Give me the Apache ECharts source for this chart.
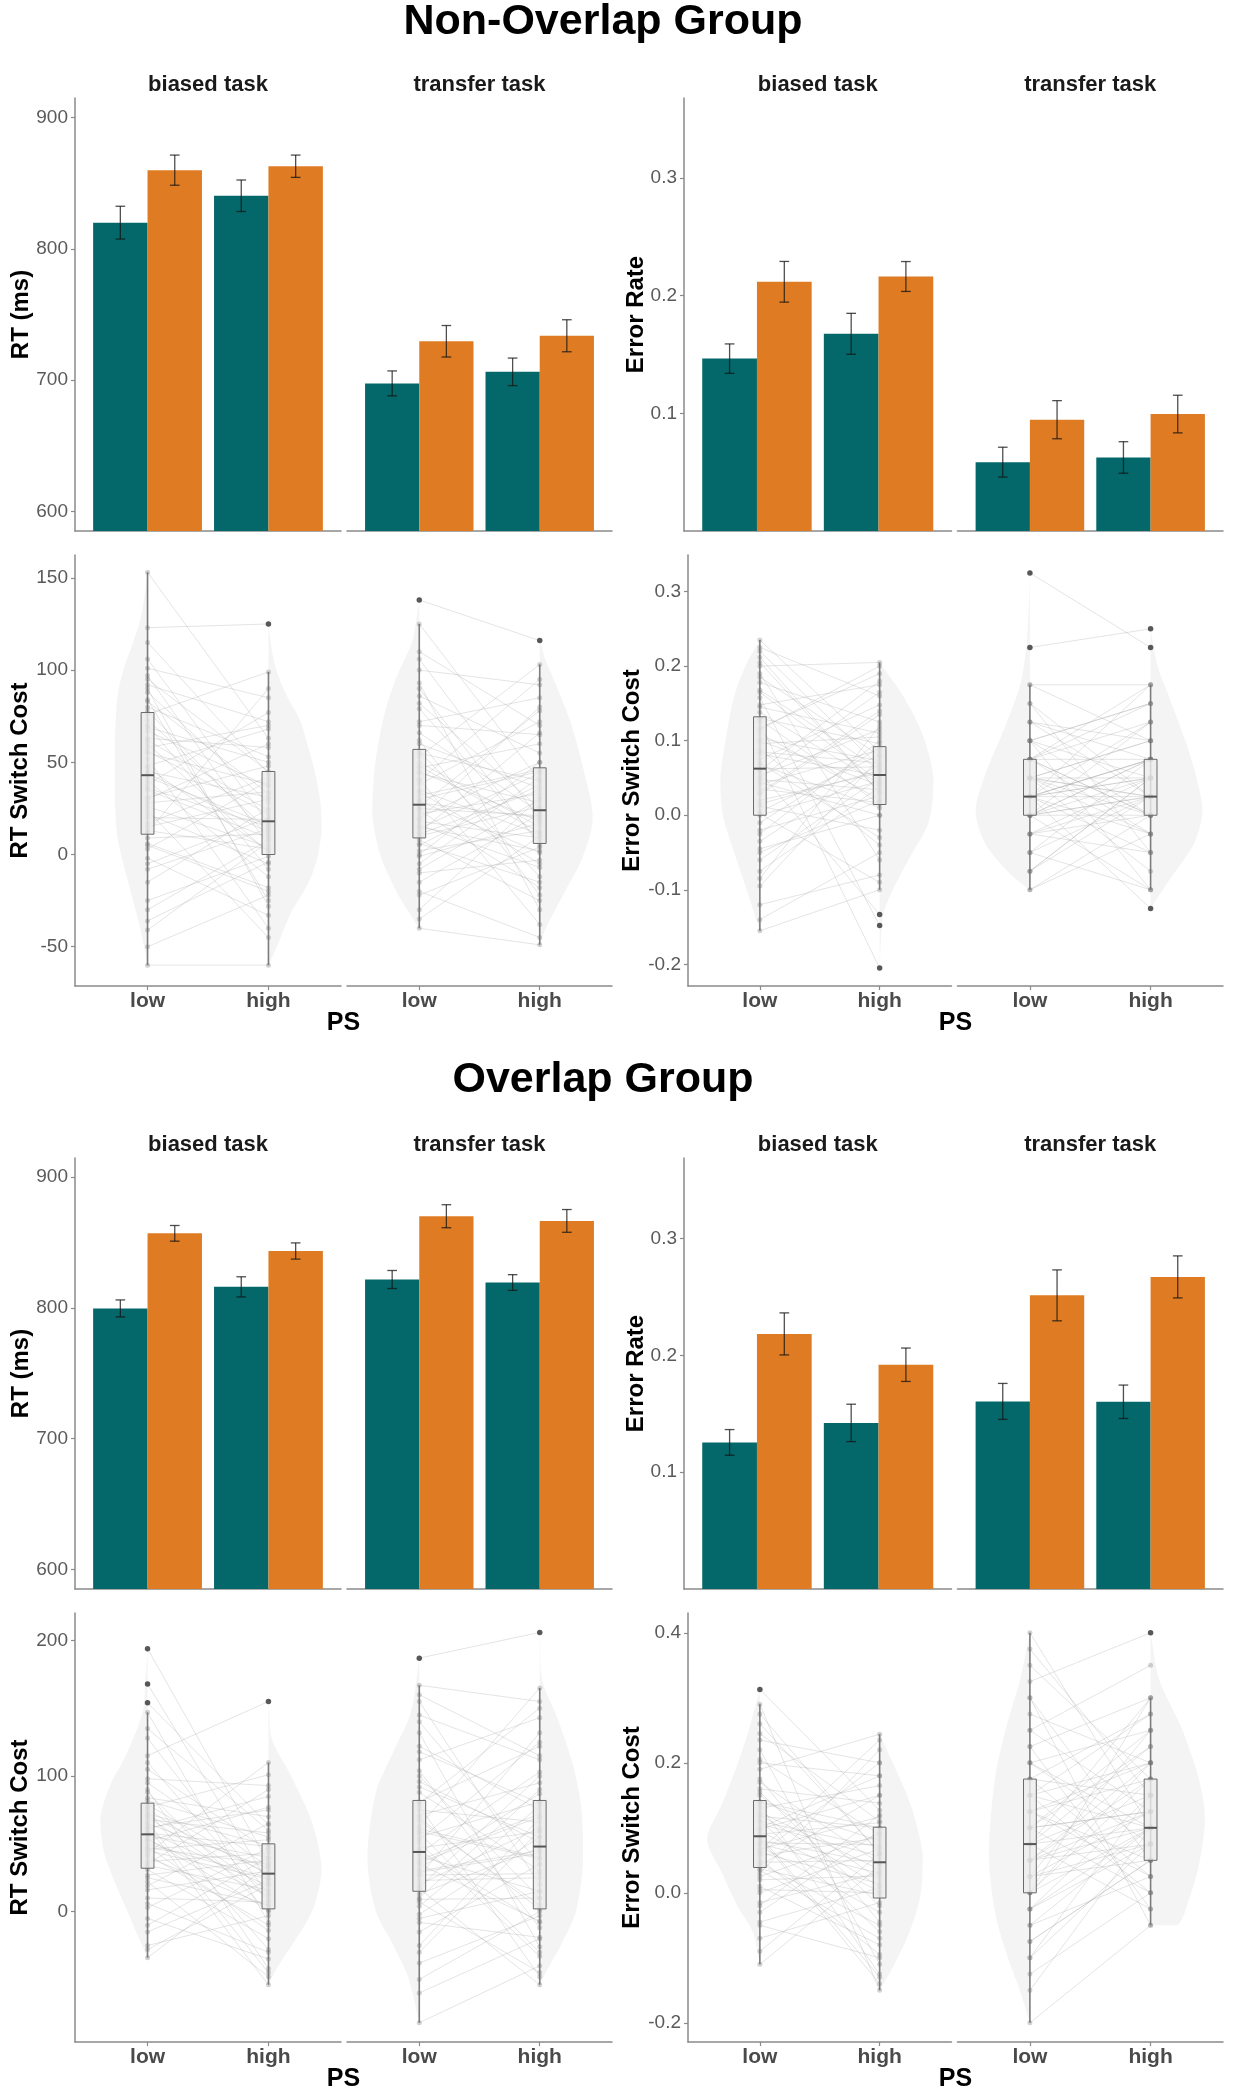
<!DOCTYPE html>
<html><head><meta charset="utf-8">
<script src="https://cdn.jsdelivr.net/npm/echarts@6/dist/echarts.min.js"></script>
<style>html,body{margin:0;padding:0;background:#fff}#c{width:1237px;height:2100px}</style>
</head><body><div id="c"></div>
<script>
// ================= DATA =================
const groupTitles = ['Non-Overlap Group', 'Overlap Group'];
const tasks = ['biased task', 'transfer task'];
const psLevels = ['low', 'high'];
const trialTypes = ['repeat', 'switch'];   // teal, orange (no legend in the figure)

// Bar means / SE. Rows: biased-low, biased-high, transfer-low, transfer-high; cols: repeat, switch
const noRtMean  = [[820, 860], [840.5, 863], [697.5, 729.6], [706.3, 733.8]];
const noRtSe    = [[12.5, 11.5], [12, 8.5], [9.5, 12], [10.5, 12.2]];
const noErrMean = [[0.1465, 0.2118], [0.1676, 0.2163], [0.0585, 0.0946], [0.0625, 0.0994]];
const noErrSe   = [[0.0125, 0.0173], [0.0174, 0.0127], [0.0127, 0.0162], [0.0134, 0.016]];
const ovRtMean  = [[799.5, 856.9], [816, 843.4], [821.6, 870], [819.3, 866.4]];
const ovRtSe    = [[6.5, 6], [7.7, 6.2], [6.9, 8.8], [6, 8.7]];
const ovErrMean = [[0.1255, 0.2184], [0.1422, 0.192], [0.1606, 0.2514], [0.1603, 0.2672]];
const ovErrSe   = [[0.011, 0.018], [0.016, 0.0143], [0.0154, 0.0218], [0.0143, 0.018]];

// Participant switch costs (estimated), paired low/high
const noRtBiasedLow   = [153, 123, 115, 106, 101, 97, 92, 88, 84, 80, 76, 73, 70, 67, 63, 60, 56, 52, 48, 45, 42, 40, 38, 35, 31, 28, 24, 20, 17, 13, 9, 6, 3, -2, -8, -15, -25, -36, -41, -60,
  -50, -30, -5, 5, 15, 22, 30, 36, 47, 55, 62, 69, 78, 83, 90, 95, 58, 26, 12, 44];
const noRtBiasedHigh  = [63, 125, 44, 17, 85, 5, 72, 28, -25, 53, 99, 13, -8, 37, 58, 1, 22, -40, 68, 31, 16, -12, 77, 9, 48, 34, -45, 19, 42, 3, 11, -18, 40, -33, 14, 25, -1, -4, 7, -60,
  -22, 8, 20, -20, 30, -5, 60, 15, 2, 38, 24, 50, 10, 33, -28, 45, 70, 4, 90, 12];
const noRtTransferLow  = [138, 125, 106, 100, 93, 86, 79, 72, 66, 60, 56, 53, 50, 47, 44, 41, 38, 35, 32, 29, 26, 25, 24, 22, 20, 18, 16, 14, 12, 10, 8, 5, 2, -1, -5, -10, -15, -22, -30, -40,
  -35, -20, -8, 0, 6, 11, 15, 19, 28, 34, 40, 48, 55, 62, 70, 82, 90, 110, 30, 45];
const noRtTransferHigh = [116, 40, 19, 92, -30, 55, 7, 85, 23, 36, -12, 103, 15, 60, 28, -38, 72, 11, 46, 1, 78, 21, -18, 33, 50, 9, -7, 44, 66, 26, -25, 38, 13, 17, 42, -3, 22, 4, 31, -49,
  10, -45, 30, 50, -15, 35, 2, 80, 20, -5, 95, 12, 40, -22, 65, 25, 5, 70, 45, 18];
const noErrBiasedLow   = [0.235, 0.225, 0.212, 0.2, 0.19, 0.178, 0.168, 0.158, 0.148, 0.138, 0.13, 0.124, 0.117, 0.11, 0.103, 0.096, 0.089, 0.082, 0.075, 0.068, 0.062, 0.058, 0.053, 0.048, 0.041, 0.035, 0.028, 0.02, 0.012, 0.005, 0, -0.01, -0.02, -0.035, -0.045, -0.06, -0.075, -0.095, -0.12, -0.155,
  -0.14, -0.085, -0.05, -0.025, 0.002, 0.015, 0.03, 0.044, 0.06, 0.07, 0.085, 0.1, 0.115, 0.128, 0.145, 0.165, 0.185, 0.205, 0.22, 0.05];
const noErrBiasedHigh  = [0.085, 0.16, 0.03, 0.205, -0.06, 0.125, 0.061, -0.148, 0.175, 0.042, 0.096, -0.205, 0.19, 0.021, 0.073, 0.105, -0.04, 0.053, 0.148, 0.01, 0.065, -0.133, 0.115, 0.034, 0.088, 0.017, 0.135, 0.057, -0.02, 0.081, 0.046, 0.091, 0.026, 0.069, 0, 0.05, 0.038, 0.077, -0.08, -0.1,
  -0.05, 0.12, 0.02, 0.1, -0.09, 0.06, 0.14, 0.0, 0.18, -0.03, 0.07, 0.04, 0.2, 0.015, 0.11, 0.045, 0.08, 0.03, 0.065, 0.165];
const noErrTransferLow  = [0.325, 0.225, 0.175, 0.15, 0.125, 0.125, 0.1, 0.1, 0.1, 0.075, 0.075, 0.075, 0.075, 0.075, 0.05, 0.05, 0.05, 0.05, 0.05, 0.025, 0.025, 0.025, 0.025, 0.025, 0.025, 0.025, 0, 0, 0, 0, 0, -0.025, -0.025, -0.025, -0.05, -0.05, -0.075, -0.075, -0.1, -0.1,
  0.05, 0.025, 0, -0.05, 0.1, 0.075, 0.025, 0.15, 0, -0.025, 0.05, 0.125, 0.025, 0.075, -0.075, 0, 0.175, 0.05, 0.1, 0.025];
const noErrTransferHigh = [0.225, 0.25, 0.175, -0.05, 0.1, 0.025, 0.15, -0.1, 0.05, 0.125, -0.025, 0.075, 0, 0.175, 0.025, -0.075, 0.1, 0.05, 0, 0.075, 0.125, -0.025, 0.025, 0.05, -0.125, 0.075, 0.025, 0, 0.05, 0.075, 0.025, 0, -0.05, 0.025, 0.075, -0.1, 0.025, 0.05, -0.025, 0,
  0.1, -0.05, 0.075, 0.025, 0, 0.15, 0.05, 0.025, 0.125, 0.05, -0.025, 0.075, 0.175, 0, 0.05, -0.1, 0.1, 0.025, 0.15, 0.075];
const ovRtBiasedLow   = [194, 168, 154, 147, 128, 115, 105, 98, 90, 84, 79, 77, 74, 72, 70, 68, 65, 63, 61, 59, 56, 54, 52, 50, 48, 46, 43, 40, 37, 34, 31, 27, 22, 16, 10, 3, -5, -15, -25, -34,
  -28, -10, 6, 19, 25, 35, 42, 47, 53, 58, 62, 66, 71, 76, 82, 88, 95, 110, 135, 45];
const ovRtBiasedHigh  = [36, 21, 64, -8, 13, 155, 45, 93, -42, 70, 27, 101, -28, 49, 10, 58, 32, -54, 85, 19, 40, 1, 77, 25, -14, 53, 110, 4, 43, 16, -20, 38, -48, 30, 7, 47, -35, 23, -3, 34,
  20, 40, -30, 65, 5, 90, -10, 35, 12, 48, 75, -45, 28, 15, 55, 0, 33, 8, 60, 24];
const ovRtTransferLow  = [187, 167, 155, 145, 132, 122, 112, 104, 96, 88, 81, 78, 75, 71, 67, 63, 59, 55, 51, 47, 43, 41, 38, 35, 32, 29, 26, 23, 20, 17, 13, 9, 4, -2, -8, -15, -25, -38, -50, -82,
  -60, -30, -5, 7, 18, 27, 36, 45, 53, 61, 69, 80, 92, 100, 118, 140, 160, 10, 58, 30];
const ovRtTransferHigh = [206, 155, 20, 112, -26, 75, 143, -12, 51, 30, 122, -48, 66, 95, 5, 165, 39, 81, -33, 59, 103, 15, 72, -7, 87, 43, 132, 25, 62, -54, 47, 10, 78, 55, -19, 35, 69, -3, 0, -40,
  -20, 60, 15, -45, 100, 28, 70, -8, 125, 40, 2, 150, 55, 10, 80, 35, 115, 90, -30, 45];
const ovErrBiasedLow   = [0.313, 0.29, 0.26, 0.235, 0.22, 0.205, 0.19, 0.175, 0.16, 0.15, 0.14, 0.135, 0.13, 0.124, 0.118, 0.112, 0.106, 0.1, 0.095, 0.09, 0.085, 0.081, 0.077, 0.072, 0.067, 0.062, 0.057, 0.052, 0.047, 0.042, 0.037, 0.03, 0.02, 0.01, 0, -0.015, -0.03, -0.045, -0.07, -0.11,
  -0.09, -0.05, -0.02, 0.005, 0.025, 0.045, 0.06, 0.075, 0.088, 0.098, 0.11, 0.12, 0.14, 0.155, 0.17, 0.2, 0.245, 0.275, 0.065, 0.035];
const ovErrBiasedHigh  = [0.127, -0.15, 0.062, 0.2, -0.11, 0.09, 0.244, -0.045, 0.138, 0.02, 0.08, -0.125, 0.165, 0.036, 0.1, -0.06, 0.056, 0.18, 0.002, 0.108, -0.14, 0.045, 0.074, -0.03, 0.117, 0.014, 0.085, -0.095, 0.05, 0.15, -0.004, 0.22, 0.026, -0.08, 0.068, 0.031, 0.095, 0.008, -0.015, 0.041,
  0.06, -0.1, 0.12, 0.0, 0.09, -0.05, 0.2, 0.03, -0.13, 0.15, 0.07, 0.01, 0.1, -0.02, 0.045, 0.18, 0.11, 0.06, 0.235, -0.07];
const ovErrTransferLow  = [0.4, 0.35, 0.325, 0.3, 0.275, 0.25, 0.225, 0.2, 0.2, 0.175, 0.175, 0.15, 0.15, 0.15, 0.125, 0.125, 0.1, 0.1, 0.1, 0.075, 0.075, 0.075, 0.075, 0.05, 0.05, 0.05, 0.025, 0.025, 0.025, 0, 0, -0.025, -0.025, -0.05, -0.05, -0.075, -0.1, -0.125, -0.15, -0.2,
  0.375, 0.3, 0.25, 0.2, 0.175, 0.15, 0.125, 0.1, 0.075, 0.05, 0.025, 0, -0.025, -0.075, -0.1, 0.225, 0.1, 0.05, 0.125, 0];
const ovErrTransferHigh = [0.1, 0.175, 0.4, -0.05, 0.2, 0.125, 0.3, 0.075, 0.25, 0.15, 0.025, 0.2, 0.1, 0.275, 0.05, 0.175, 0.125, 0.225, 0, 0.1, 0.15, 0.3, -0.025, 0.075, 0.2, 0.1, 0.125, 0.05, 0.25, 0.175, 0.1, 0.075, 0.15, 0.025, 0.1, 0.05, 0.075, 0, 0.1, -0.05,
  0.15, 0.05, 0.35, 0.1, 0.275, 0.0, 0.2, 0.125, 0.225, 0.175, 0.075, 0.3, 0.1, 0.05, 0.15, -0.025, 0.25, 0.125, 0.025, 0.2];

// Box statistics [whisker low, Q1, median, Q3, whisker high] for low / high PS
const noRtBiasedBox    = [[-60, 11, 43, 77, 153], [-60, 0, 18, 45, 99]];
const noRtTransferBox  = [[-40, 9, 27, 57, 125], [-49, 6, 24, 47, 103]];
const noErrBiasedBox   = [[-0.155, 0, 0.0625, 0.132, 0.235], [-0.1, 0.0144, 0.054, 0.092, 0.205]];
const noErrTransferBox = [[-0.1, 0, 0.025, 0.075, 0.175], [-0.1, 0, 0.025, 0.075, 0.175]];
const ovRtBiasedBox    = [[-34, 32, 57, 80, 147], [-54, 2, 28, 50, 110]];
const ovRtTransferBox  = [[-82, 15, 44, 82, 167], [-54, 2, 48, 82, 165]];
const ovErrBiasedBox   = [[-0.11, 0.039, 0.087, 0.142, 0.29], [-0.15, -0.008, 0.047, 0.101, 0.244]];
const ovErrTransferBox = [[-0.2, 0, 0.075, 0.175, 0.4], [-0.05, 0.05, 0.1, 0.175, 0.3]];
// Outliers for low / high PS
const noRtBiasedOut    = [[], [125]];
const noRtTransferOut  = [[138], [116]];
const noErrBiasedOut   = [[], [-0.133, -0.148, -0.205]];
const noErrTransferOut = [[0.225, 0.325], [0.225, 0.25, -0.125]];
const ovRtBiasedOut    = [[154, 168, 194], [155]];
const ovRtTransferOut  = [[187], [206]];
const ovErrBiasedOut   = [[0.313], []];
const ovErrTransferOut = [[], [0.4]];

// Half-violin density profiles [value, half width in PS-axis units]; low drawn leftwards, high rightwards
const noRtBiasedViolin = [
  [[153,0],[130,0.05],[115,0.12],[100,0.2],[85,0.25],[60,0.27],[30,0.27],[10,0.25],[-5,0.2],[-20,0.14],[-40,0.06],[-60,0]],
  [[125,0],[110,0.03],[99,0.07],[85,0.16],[73,0.26],[58,0.33],[43,0.39],[28,0.43],[14,0.44],[0,0.41],[-11,0.36],[-20,0.29],[-30,0.2],[-40,0.13],[-50,0.07],[-60,0]]
];
const noRtTransferViolin = [
  [[138,0],[125,0.03],[115,0.06],[96,0.19],[76,0.29],[47,0.37],[22,0.39],[-1,0.32],[-20,0.19],[-30,0.1],[-40,0]],
  [[116,0],[105,0.05],[96,0.11],[73,0.25],[47,0.36],[20,0.44],[-1,0.36],[-20,0.21],[-40,0.05],[-49,0]]
];
const noErrBiasedViolin = [
  [[0.235,0],[0.2,0.12],[0.156,0.22],[0.097,0.29],[0.049,0.33],[0.001,0.31],[-0.047,0.22],[-0.095,0.12],[-0.13,0.05],[-0.156,0]],
  [[0.204,0],[0.164,0.18],[0.116,0.34],[0.07,0.43],[0.044,0.45],[-0.009,0.41],[-0.057,0.25],[-0.1,0.11],[-0.133,0.03],[-0.17,0.01],[-0.205,0]]
];
const noErrTransferViolin = [
  [[0.325,0],[0.275,0.01],[0.225,0.03],[0.175,0.08],[0.117,0.21],[0.059,0.36],[0.006,0.45],[-0.038,0.37],[-0.076,0.18],[-0.1,0]],
  [[0.25,0],[0.199,0.06],[0.156,0.16],[0.099,0.29],[0.051,0.38],[0.006,0.43],[-0.038,0.36],[-0.086,0.16],[-0.125,0]]
];
const ovRtBiasedViolin = [
  [[194,0],[168,0.02],[147,0.04],[117,0.17],[93,0.31],[68.5,0.39],[44,0.36],[19.5,0.26],[-5,0.14],[-20,0.07],[-34,0]],
  [[155,0],[127,0.03],[103,0.17],[73,0.33],[50,0.41],[29,0.44],[0,0.36],[-24,0.2],[-40,0.08],[-54,0]]
];
const ovRtTransferViolin = [
  [[187,0],[147,0.07],[117,0.22],[88,0.36],[39,0.43],[0,0.36],[-24,0.22],[-49,0.09],[-82,0]],
  [[206,0],[171,0.02],[142,0.15],[107,0.28],[73,0.35],[37,0.36],[0,0.3],[-24,0.18],[-40,0.08],[-54,0]]
];
const ovErrBiasedViolin = [
  [[0.313,0],[0.252,0.09],[0.196,0.19],[0.135,0.32],[0.083,0.44],[0.032,0.32],[-0.019,0.19],[-0.06,0.06],[-0.11,0]],
  [[0.244,0],[0.196,0.12],[0.135,0.26],[0.058,0.36],[-0.004,0.34],[-0.06,0.25],[-0.111,0.12],[-0.15,0]]
];
const ovErrTransferViolin = [
  [[0.4,0],[0.329,0.08],[0.252,0.2],[0.175,0.29],[0.058,0.34],[-0.029,0.29],[-0.09,0.2],[-0.152,0.08],[-0.2,0]],
  [[0.4,0],[0.329,0.07],[0.252,0.26],[0.175,0.4],[0.114,0.45],[0.043,0.4],[-0.009,0.32],[-0.05,0.22]]
];

// Axis limits and tick labels
const rtBarRange  = [[585, 915], [585, 914.5]];
const errBarRange = [[0, 0.368], [0, 0.369]];
const rtScRange   = [[-71.3, 162.4], [-96.2, 220.3]];
const errScRange  = [[-0.229, 0.349], [-0.2295, 0.4305]];
const rtBarTicks  = [600, 700, 800, 900];
const errBarTicks = [0.1, 0.2, 0.3];
const rtScTicks   = [[-50, 0, 50, 100, 150], [0, 100, 200]];
const errScTicks  = [[-0.2, -0.1, 0, 0.1, 0.2, 0.3], [-0.2, 0, 0.2, 0.4]];
const yTitles = { rtBar: 'RT (ms)', errBar: 'Error Rate', rtSc: 'RT Switch Cost', errSc: 'Error Switch Cost' };
const xTitle = 'PS';

// ================= STYLE / LAYOUT =================
const FONT = "'Liberation Sans', Arial, Helvetica, sans-serif";
const BAR_COLORS = ['#04676a', '#df7b23'];
const AXIS_COLOR = '#8a8a8a';
const COLS = {
  rt:  { bar: [[75, 341], [347, 612]], sc: [[75, 341], [347, 612]], nameXBar: 21, nameXSc: 20 },
  err: { bar: [[684, 951.5], [957.5, 1223]], sc: [[688, 951.5], [957.5, 1223]], nameXBar: 636, nameXSc: 632 }
};
const ROWS = [
  { title: 22, strip: 85, bar: [98, 531], sc: [555, 986], ps: 1023 },
  { title: 1080, strip: 1144.5, bar: [1158, 1589], sc: [1613, 2042], ps: 2079 }
];

const fmtInt = v => String(Math.round(v));
const fmt1 = v => (Math.round(v * 10) / 10).toFixed(1);

const grids = [], xAxes = [], yAxes = [], series = [], graphic = [];

function addPanel(lr, tb, yRange, yTicks, yFmt, showY, xLabels) {
  const gi = grids.length;
  grids.push({ left: lr[0], top: tb[0], width: lr[1] - lr[0], height: tb[1] - tb[0], containLabel: false, outerBoundsMode: 'none' });
  xAxes.push({
    type: 'value', gridIndex: gi, min: 0.4, max: 2.6,
    axisLine: { show: true, onZero: false, lineStyle: { color: AXIS_COLOR, width: 1.5 } },
    axisTick: { show: xLabels, length: 4, customValues: [1, 2], lineStyle: { color: AXIS_COLOR, width: 1.2 } },
    axisLabel: { show: xLabels, customValues: [1, 2], formatter: v => psLevels[Math.round(v) - 1],
      color: '#4a4a4a', fontSize: 21, fontWeight: 'bold', fontFamily: FONT, margin: 5 },
    splitLine: { show: false }
  });
  yAxes.push({
    type: 'value', gridIndex: gi, min: yRange[0], max: yRange[1], show: showY,
    axisLine: { show: true, onZero: false, lineStyle: { color: AXIS_COLOR, width: 1.5 } },
    axisTick: { show: true, length: 4, customValues: yTicks, lineStyle: { color: AXIS_COLOR, width: 1.2 } },
    axisLabel: { show: true, customValues: yTicks, formatter: yFmt, color: '#5a5a5a', fontSize: 19, fontFamily: FONT, margin: 7 },
    splitLine: { show: false }
  });
  return gi;
}

function addText(text, x, y, size, weight, color, rot) {
  graphic.push({ type: 'text', x: x, y: y, rotation: rot || 0, silent: true,
    style: { text: text, fontSize: size, fontWeight: weight, fontFamily: FONT, fill: color, align: 'center', verticalAlign: 'middle' } });
}

function addBars(gi, mean, se, f, yMin) {
  const barData = [], ebData = [];
  for (let i = 0; i < 2; i++) for (let t = 0; t < 2; t++) {
    const x = (i + 1) + (t === 0 ? -0.225 : 0.225);
    barData.push([x, mean[f * 2 + i][t], t]);
    ebData.push([x, mean[f * 2 + i][t], se[f * 2 + i][t]]);
  }
  series.push({
    type: 'custom', name: 'bars', xAxisIndex: gi, yAxisIndex: gi, silent: true, z: 2, data: barData,
    renderItem: (params, api) => {
      const x = api.value(0), v = api.value(1), t = api.value(2);
      const p0 = api.coord([x - 0.225, v]), p1 = api.coord([x + 0.225, yMin]);
      return { type: 'rect', shape: { x: p0[0], y: p0[1], width: p1[0] - p0[0], height: p1[1] - p0[1] },
        style: { fill: BAR_COLORS[t] } };
    }
  });
  series.push({
    type: 'custom', name: 'errorbars', xAxisIndex: gi, yAxisIndex: gi, silent: true, z: 3, data: ebData,
    renderItem: (params, api) => {
      const x = api.value(0), m = api.value(1), s = api.value(2);
      const hi = api.coord([x, m + s]), lo = api.coord([x, m - s]);
      const hl = api.coord([x - 0.04, m + s]), hr = api.coord([x + 0.04, m + s]);
      const ll = api.coord([x - 0.04, m - s]), lr2 = api.coord([x + 0.04, m - s]);
      const st = { stroke: 'rgba(20,20,20,0.75)', lineWidth: 1.3 };
      return { type: 'group', children: [
        { type: 'line', shape: { x1: hi[0], y1: hi[1], x2: lo[0], y2: lo[1] }, style: st },
        { type: 'line', shape: { x1: hl[0], y1: hl[1], x2: hr[0], y2: hr[1] }, style: st },
        { type: 'line', shape: { x1: ll[0], y1: ll[1], x2: lr2[0], y2: lr2[1] }, style: st }
      ] };
    }
  });
}

function addSwitch(gi, low, high, box, out, violin) {
  // half violins
  series.push({
    type: 'custom', name: 'violin', xAxisIndex: gi, yAxisIndex: gi, silent: true, z: 1, data: [[1, -1], [2, 1]],
    renderItem: (params, api) => {
      const xc = api.value(0), side = api.value(1);
      const prof = violin[params.dataIndex];
      const pts = [api.coord([xc, prof[0][0]])];
      prof.forEach(p => pts.push(api.coord([xc + side * p[1], p[0]])));
      pts.push(api.coord([xc, prof[prof.length - 1][0]]));
      let x0 = Infinity, y0 = Infinity, x1 = -Infinity, y1 = -Infinity;
      pts.forEach(p => { x0 = Math.min(x0, p[0]); x1 = Math.max(x1, p[0]); y0 = Math.min(y0, p[1]); y1 = Math.max(y1, p[1]); });
      return { type: 'polygon', shape: { points: pts, smooth: 0.3, smoothConstraint: [[x0, y0], [x1, y1]] },
        style: { fill: 'rgba(215,215,215,0.28)' } };
    }
  });
  // participant lines
  series.push({
    type: 'custom', name: 'pairs', xAxisIndex: gi, yAxisIndex: gi, silent: true, z: 2,
    data: low.map((v, k) => [v, high[k]]),
    renderItem: (params, api) => {
      const a = api.coord([1, api.value(0)]), b = api.coord([2, api.value(1)]);
      return { type: 'line', shape: { x1: a[0], y1: a[1], x2: b[0], y2: b[1] },
        style: { stroke: 'rgba(165,165,165,0.3)', lineWidth: 1 } };
    }
  });
  // box + whiskers
  series.push({
    type: 'custom', name: 'box', xAxisIndex: gi, yAxisIndex: gi, silent: true, z: 4,
    data: [[1].concat(box[0]), [2].concat(box[1])],
    renderItem: (params, api) => {
      const x = api.value(0);
      const w0 = api.coord([x, api.value(1)]), w1 = api.coord([x, api.value(5)]);
      const q1 = api.coord([x - 0.053, api.value(2)]), q3 = api.coord([x + 0.053, api.value(4)]);
      const ml = api.coord([x - 0.053, api.value(3)]), mr = api.coord([x + 0.053, api.value(3)]);
      return { type: 'group', children: [
        { type: 'line', shape: { x1: w0[0], y1: w0[1], x2: w1[0], y2: w1[1] }, style: { stroke: 'rgba(110,110,110,0.9)', lineWidth: 1.6 } },
        { type: 'rect', shape: { x: q1[0], y: q3[1], width: q3[0] - q1[0], height: q1[1] - q3[1] },
          style: { fill: 'rgba(236,236,236,0.8)', stroke: '#6a6a6a', lineWidth: 1 } },
        { type: 'line', shape: { x1: ml[0], y1: ml[1], x2: mr[0], y2: mr[1] }, style: { stroke: '#555', lineWidth: 2 } }
      ] };
    }
  });
  // participant points
  series.push({
    type: 'scatter', name: 'points', xAxisIndex: gi, yAxisIndex: gi, silent: true, z: 3,
    symbol: 'circle', symbolSize: 5,
    itemStyle: { color: 'rgba(130,130,130,0.45)' },
    data: low.map(v => [1, v]).concat(high.map(v => [2, v]))
  });
  // outliers
  series.push({
    type: 'scatter', name: 'outliers', xAxisIndex: gi, yAxisIndex: gi, silent: true, z: 5,
    symbol: 'circle', symbolSize: 5.5,
    itemStyle: { color: '#3a3a3a' },
    data: out[0].map(v => [1, v]).concat(out[1].map(v => [2, v]))
  });
}

const groupData = [
  { rtMean: noRtMean, rtSe: noRtSe, errMean: noErrMean, errSe: noErrSe,
    rt: [[noRtBiasedLow, noRtBiasedHigh, noRtBiasedBox, noRtBiasedOut, noRtBiasedViolin],
         [noRtTransferLow, noRtTransferHigh, noRtTransferBox, noRtTransferOut, noRtTransferViolin]],
    err: [[noErrBiasedLow, noErrBiasedHigh, noErrBiasedBox, noErrBiasedOut, noErrBiasedViolin],
          [noErrTransferLow, noErrTransferHigh, noErrTransferBox, noErrTransferOut, noErrTransferViolin]] },
  { rtMean: ovRtMean, rtSe: ovRtSe, errMean: ovErrMean, errSe: ovErrSe,
    rt: [[ovRtBiasedLow, ovRtBiasedHigh, ovRtBiasedBox, ovRtBiasedOut, ovRtBiasedViolin],
         [ovRtTransferLow, ovRtTransferHigh, ovRtTransferBox, ovRtTransferOut, ovRtTransferViolin]],
    err: [[ovErrBiasedLow, ovErrBiasedHigh, ovErrBiasedBox, ovErrBiasedOut, ovErrBiasedViolin],
          [ovErrTransferLow, ovErrTransferHigh, ovErrTransferBox, ovErrTransferOut, ovErrTransferViolin]] }
];

for (let g = 0; g < 2; g++) {
  const R = ROWS[g], D = groupData[g];
  addText(groupTitles[g], 603, R.title, 43, 'bold', '#000');
  ['rt', 'err'].forEach(m => {
    const C = COLS[m];
    const barRange = m === 'rt' ? rtBarRange[g] : errBarRange[g];
    const barTicks = m === 'rt' ? rtBarTicks : errBarTicks;
    const scRange = m === 'rt' ? rtScRange[g] : errScRange[g];
    const scTicks = m === 'rt' ? rtScTicks[g] : errScTicks[g];
    const fmt = m === 'rt' ? fmtInt : fmt1;
    for (let f = 0; f < 2; f++) {
      addText(tasks[f], (C.bar[f][0] + C.bar[f][1]) / 2, R.strip, 22, 'bold', '#1a1a1a');
      const gb = addPanel(C.bar[f], R.bar, barRange, barTicks, fmt, f === 0, false);
      addBars(gb, m === 'rt' ? D.rtMean : D.errMean, m === 'rt' ? D.rtSe : D.errSe, f, barRange[0]);
      const gs = addPanel(C.sc[f], R.sc, scRange, scTicks, fmt, f === 0, true);
      const P = D[m][f];
      addSwitch(gs, P[0], P[1], P[2], P[3], P[4]);
    }
    addText(yTitles[m + 'Bar'], C.nameXBar, (R.bar[0] + R.bar[1]) / 2, 24, 'bold', '#000', Math.PI / 2);
    addText(yTitles[m + 'Sc'], C.nameXSc, (R.sc[0] + R.sc[1]) / 2, 24, 'bold', '#000', Math.PI / 2);
    addText(xTitle, (C.sc[0][0] + C.sc[1][1]) / 2, R.ps, 25, 'bold', '#000');
  });
}

const chart = echarts.init(document.getElementById('c'), null, { renderer: 'canvas' });
chart.setOption({
  animation: false,
  backgroundColor: '#ffffff',
  grid: grids, xAxis: xAxes, yAxis: yAxes, series: series, graphic: graphic
});
</script>
</body></html>
